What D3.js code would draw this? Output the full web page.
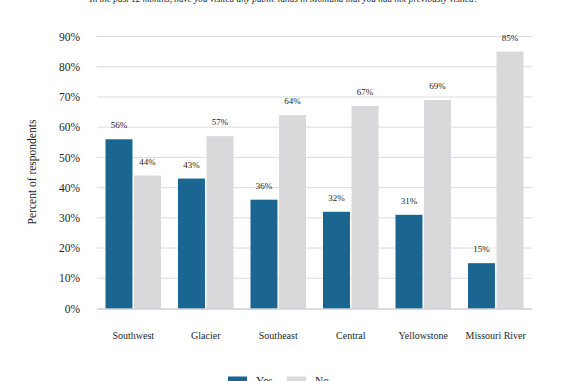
<!DOCTYPE html>
<html><head><meta charset="utf-8">
<script src="https://cdn.jsdelivr.net/npm/d3@7"></script>
<style>body{margin:0;background:#fff}svg{display:block}text{font-family:"Liberation Serif","DejaVu Serif",serif;fill:#231f20}</style>
</head><body>
<script>
const title = "In the past 12 months, have you visited any public lands in Montana that you had not previously visited?";
const categories = ["Southwest","Glacier","Southeast","Central","Yellowstone","Missouri River"];
const yesValues = [56,43,36,32,31,15];
const noValues = [44,57,64,67,69,85];
const seriesNames = ["Yes","No"];
const yTicks = [0,10,20,30,40,50,60,70,80,90];
const colors = {Yes:"#1b6690", No:"#d9d9db"};

const W=570,H=381;
const svg=d3.select("body").append("svg").attr("width",W).attr("height",H);
const x0=d3.scaleBand().domain(categories).range([97,532]).paddingInner(0).paddingOuter(0);
const y=d3.scaleLinear().domain([0,90]).range([308.5,36.5]);
const x1=d3.scaleBand().domain(seriesNames).range([8.5,x0.bandwidth()-8.5]).paddingInner(0.055);

svg.append("text").attr("x",284).attr("y",2).attr("text-anchor","middle")
  .attr("font-size",9.3).attr("font-style","italic").text(title);

// grid
svg.append("g").selectAll("line").data(yTicks.filter(d=>d>0)).join("line")
  .attr("x1",97).attr("x2",532).attr("y1",d=>y(d)).attr("y2",d=>y(d))
  .attr("stroke","#dcdcdc").attr("stroke-width",1);

const yAxis=svg.append("g").attr("transform","translate(97,0)")
  .call(d3.axisLeft(y).tickValues(yTicks).tickFormat(d=>d+"%").tickSize(0).tickPadding(17));
yAxis.select(".domain").remove();
yAxis.selectAll("text").attr("font-size",11.5).attr("font-family","Liberation Serif").attr("fill","#231f20");

const data=categories.map((c,i)=>({cat:c,vals:[{k:"Yes",v:yesValues[i]},{k:"No",v:noValues[i]}]}));
const g=svg.append("g").selectAll("g").data(data).join("g").attr("transform",d=>`translate(${x0(d.cat)},0)`);
g.selectAll("rect").data(d=>d.vals).join("rect")
  .attr("x",d=>x1(d.k)).attr("width",x1.bandwidth())
  .attr("y",d=>y(d.v)).attr("height",d=>y(0)-y(d.v)).attr("fill",d=>colors[d.k]);
g.selectAll("text.v").data(d=>d.vals).join("text").attr("class","v")
  .attr("x",d=>x1(d.k)+x1.bandwidth()/2).attr("y",d=>y(d.v)-11)
  .attr("text-anchor","middle").attr("font-size",9).text(d=>d.v+"%");

// x axis line
svg.append("line").attr("x1",97).attr("x2",532).attr("y1",y(0)+0.5).attr("y2",y(0)+0.5)
  .attr("stroke","#b8b8b8").attr("stroke-width",1);
const xAxis=svg.append("g").attr("transform",`translate(0,${y(0)})`)
  .call(d3.axisBottom(x0).tickSize(0).tickPadding(23));
xAxis.select(".domain").remove();
xAxis.selectAll("text").attr("font-size",10).attr("font-family","Liberation Serif").attr("fill","#231f20");

svg.append("text").attr("transform","translate(36,172) rotate(-90)")
  .attr("text-anchor","middle").attr("font-size",11.5).text("Percent of respondents");

// legend
const leg=svg.append("g");
const legX=[228,287];
seriesNames.forEach((s,i)=>{
  leg.append("rect").attr("x",legX[i]).attr("y",376.5).attr("width",19).attr("height",10).attr("fill",colors[s]);
  leg.append("text").attr("x",legX[i]+28).attr("y",385).attr("font-size",11.5).text(s);
});
</script>
</body></html>
